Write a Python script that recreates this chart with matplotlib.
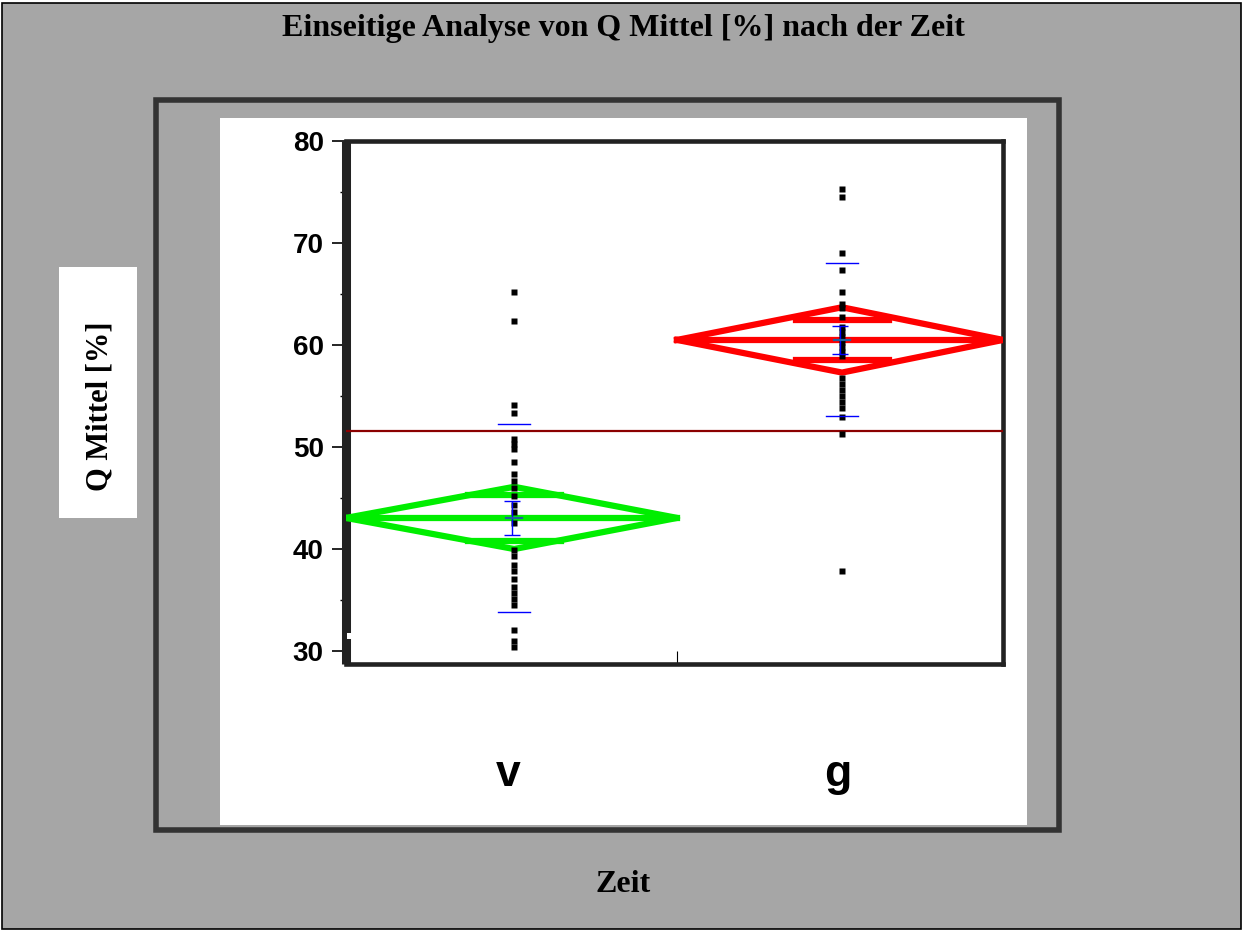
import matplotlib
import matplotlib.pyplot as plt
from matplotlib.patches import Rectangle

matplotlib.use("Agg")

W, H = 1244, 931

GRAY = "#a6a6a6"
FRAME = "#333333"
SPINE = "#222222"
GREEN = "#00ee00"
RED = "#ff0000"
DARK_RED = "#8b0000"
BLUE = "#0000ff"

# data
groups = ["v", "g"]
values_v = [65.2, 62.4, 54.1, 53.3, 50.8, 50.3, 49.8, 48.5, 47.4, 46.7, 46.0, 45.2,
            44.3, 43.6, 42.6, 39.9, 39.3, 38.4, 37.8, 37.1, 36.3, 35.7, 35.1, 34.5,
            32.1, 31.0, 30.4]
values_g = [75.3, 74.5, 69.0, 67.4, 65.2, 64.0, 63.6, 62.7, 61.8, 61.3, 60.8, 60.3,
            59.8, 59.3, 58.9, 56.8, 56.2, 55.6, 55.0, 54.4, 53.8, 52.9, 51.3, 37.8]
group_means = [43.05, 60.5]
diamond_half = [3.05, 3.2]
overlap_half = [2.25, 2.0]
std_devs = [9.2, 7.5]
std_errs = [1.65, 1.35]
grand_mean = 51.6
diamond_colors = [GREEN, RED]

# layout (axis fraction on x)
group_edges = [0.0, 0.504, 1.0]
group_x = [0.256, 0.755]


def px(x, y):
    return x / W, 1 - y / H


fig = plt.figure(figsize=(W / 100, H / 100), dpi=100)
fig.patch.set_facecolor("white")

# gray background with thin black border
fig.patches.append(Rectangle(px(2, 929), 1239 / W, 926 / H, transform=fig.transFigure,
                             facecolor=GRAY, edgecolor="black", linewidth=1.2, zorder=0))
# white plot panel and dark frame
fig.patches.append(Rectangle(px(220, 825), 807 / W, 707 / H, transform=fig.transFigure,
                             facecolor="white", edgecolor="none", zorder=1))
fig.patches.append(Rectangle(px(156, 830), 903 / W, 730 / H, transform=fig.transFigure,
                             facecolor="none", edgecolor=FRAME, linewidth=4.0, zorder=2))
# y-label box
fig.patches.append(Rectangle(px(59, 518), 78 / W, 251 / H, transform=fig.transFigure,
                             facecolor="white", edgecolor="none", zorder=1))

ax = fig.add_axes([346 / W, 1 - 664 / H, 657 / W, 523 / H])
ax.set_zorder(3)
ax.set_facecolor("white")
ax.set_xlim(0, 1)
ax.set_ylim(28.73, 80)

for i, g in enumerate(groups):
    left, right = group_edges[i], group_edges[i + 1]
    cx, m, h = group_x[i], group_means[i], diamond_half[i]
    col = diamond_colors[i]
    ax.plot([left, cx, right, cx, left], [m, m + h, m, m - h, m],
            color=col, lw=4.5, solid_joinstyle="round", zorder=3)
    ax.plot([left, right], [m, m], color=col, lw=4.5, zorder=3)
    ow = 0.0708
    for s in (1, -1):
        ax.plot([cx - ow, cx + ow], [m + s * overlap_half[i], m + s * overlap_half[i]],
                color=col, lw=4.5, zorder=3)

ax.axhline(grand_mean, color=DARK_RED, lw=1.6, zorder=3.5)

for x, vals in zip(group_x, [values_v, values_g]):
    ax.plot([x] * len(vals), vals, "s", ms=5.0, color="black", mec="none", zorder=4)

for i in range(len(groups)):
    x, m = group_x[i], group_means[i]
    for s in (1, -1):
        ax.plot([x - 0.024, x + 0.024], [m + s * std_devs[i]] * 2, color=BLUE, lw=1.0, zorder=5)
    ax.errorbar([x - 0.003], [m], yerr=[std_errs[i]], fmt="none", ecolor=BLUE,
                elinewidth=1.0, capsize=5.5, capthick=1.0, zorder=5)
    ax.plot([x - 0.012, x + 0.012], [m, m], color="#2060a0", lw=1.6, zorder=5)

# spines
for side in ["top", "right", "bottom"]:
    ax.spines[side].set_linewidth(3.3)
    ax.spines[side].set_color(SPINE)
ax.spines["left"].set_linewidth(6.5)
ax.spines["left"].set_color(SPINE)
ax.spines["left"].set_capstyle("butt")

ax.set_yticks([30, 40, 50, 60, 70, 80])
ax.set_yticks([35, 45, 55, 65, 75], minor=True)
ax.tick_params(axis="y", which="major", direction="out", length=10, width=1.2,
               pad=6, labelsize=20, color="black")
ax.tick_params(axis="y", which="minor", direction="out", length=4.5, width=1.0)
for lab in ax.get_yticklabels():
    lab.set_fontfamily("Liberation Sans")
    lab.set_fontweight("bold")

ax.set_xticks([group_edges[1]])
ax.set_xticklabels([])
ax.tick_params(axis="x", direction="in", length=9.5, width=0.8, color="black")

# small notch in the left axis line
fig.patches.append(Rectangle(px(347, 639), 5 / W, 6 / H, transform=fig.transFigure,
                             facecolor="white", edgecolor="none", zorder=10))

# category labels
for x_pix, g in zip([508, 838], groups):
    fig.text(*px(x_pix, 786), g, ha="center", va="baseline", fontsize=32,
             fontweight="bold", family="Liberation Sans")

fig.text(*px(623, 36), "Einseitige Analyse von Q Mittel [%] nach der Zeit", ha="center",
         va="baseline", fontsize=23, fontweight="bold", family="Liberation Serif")
fig.text(*px(623, 892), "Zeit", ha="center", va="baseline", fontsize=23,
         fontweight="bold", family="Liberation Serif")
fig.text(*px(99.5, 406), "Q Mittel [%]", ha="center", va="center", rotation=90,
         fontsize=22, fontweight="bold", family="Liberation Serif", zorder=5)

fig.savefig("out.png", dpi=100, facecolor="white")
plt.close(fig)
